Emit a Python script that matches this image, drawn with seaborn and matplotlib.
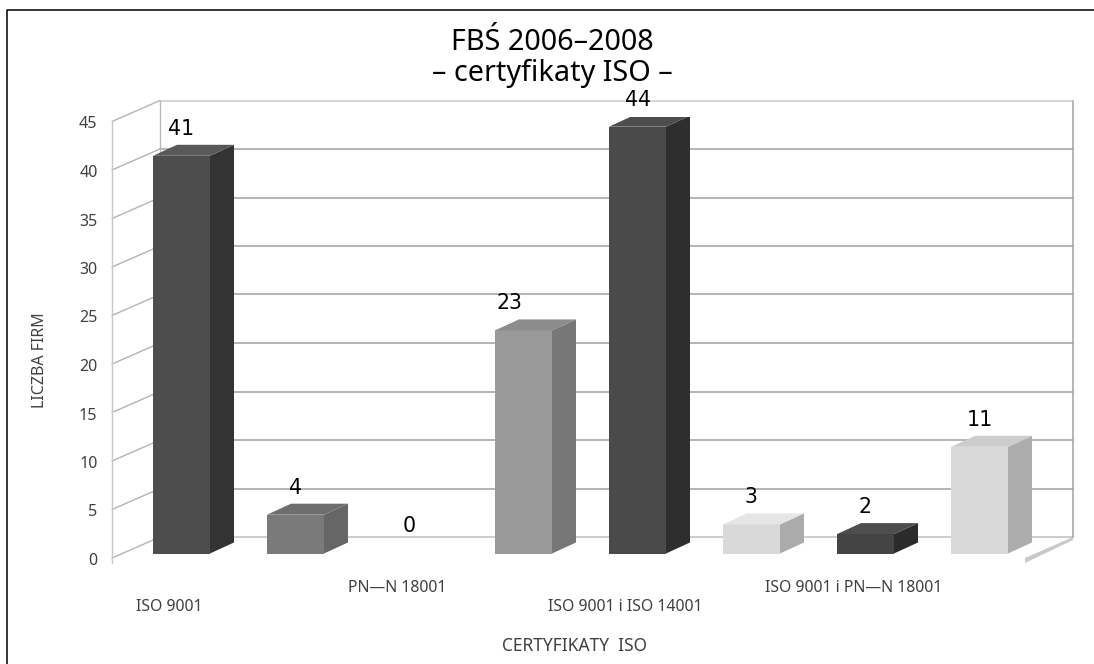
import seaborn as sns
import pandas as pd
import numpy as np
import matplotlib.pyplot as plt
from matplotlib.lines import Line2D
from matplotlib.transforms import ScaledTranslation

categories = ['ISO 9001', 'ISO 14001', 'PN-N 18001', 'ISO 9001 i PN-N 18001 a', 'ISO 9001 i ISO 14001',
              'ISO 14001 i PN-N 18001', 'ISO 9001 i PN-N 18001', 'ISO 9001, ISO 14001 i PN-N 18001']
firms = [41, 4, 0, 23, 44, 3, 2, 11]
front_colors = ['#4d4d4d', '#7a7a7a', '#888888', '#999999', '#4a4a4a', '#d9d9d9', '#444444', '#d9d9d9']
side_colors = ['#333333', '#666666', '#707070', '#777777', '#2e2e2e', '#ababab', '#2b2b2b', '#adadad']
top_colors = ['#595959', '#6e6e6e', '#808080', '#8c8c8c', '#4d4d4d', '#e6e6e6', '#4d4d4d', '#cccccc']
shown_ticks = [0, 2, 4, 6]
shown_labels = ['ISO 9001', 'PN\u2014N 18001', 'ISO 9001 i ISO 14001', 'ISO 9001 i PN\u2014N 18001']
y_ticks = list(range(0, 50, 5))

W, H = 1094, 664
sns.set_theme(style='white')
plt.rcParams['font.family'] = ['Noto Sans', 'DejaVu Sans']

df = pd.DataFrame({'cert': categories, 'firms': firms})
fig = plt.figure(figsize=(W / 100, H / 100), dpi=100)

# axes box in pixels: one category = 114 px, one firm = 9.7 px
left, right, bottom, top = 124.5, 1036.5, 553.5, 117
ax = fig.add_axes([left / W, 1 - bottom / H, (right - left) / W, (bottom - top) / H])
sns.barplot(data=df, x='cert', y='firms', hue='cert', palette=front_colors, legend=False,
            width=0.5, saturation=1, ax=ax, zorder=4, linewidth=0)
ax.set_xlim(-0.5, 7.5)
ax.set_ylim(0, 45)
for s in ax.spines.values():
    s.set_visible(False)

px = 1 / 114
py = 1 / 9.7

# fake 3d depth of the bars
bar_dx, bar_dy = 24 * px, 11 * py
for i, v in enumerate(firms):
    if v == 0:
        continue
    x1 = i + 0.25
    x0 = i - 0.25
    ax.fill([x1, x1 + bar_dx, x1 + bar_dx, x1], [0, bar_dy, v + bar_dy, v],
            color=side_colors[i], lw=0, zorder=5)
    ax.fill([x0, x0 + bar_dx, x1 + bar_dx, x1], [v, v + bar_dy, v + bar_dy, v],
            color=top_colors[i], lw=0, zorder=5)

# walls
wall_x0 = -0.5 - 12.5 * px
wall_dx, wall_dy = 48 * px, 21 * py
wall_x1 = wall_x0 + wall_dx
wall_x2 = wall_x1 + 913 * px
for t in y_ticks:
    yb = t + 16.5 * py
    yf = t - 4.5 * py
    c = '#d0d0d0' if t == 45 else ('#c4c4c4' if t == 0 else '#a8a8a8')
    ax.plot([wall_x1, wall_x2], [yb, yb], color=c, lw=1.2, zorder=1, clip_on=False)
    ax.plot([wall_x0, wall_x1], [yf, yb], color='#b4b4b4', lw=1, zorder=1, clip_on=False)
ax.plot([wall_x0, wall_x0], [-9.5 * py, 45 - 4.5 * py], color='#c8c8c8', lw=1, zorder=1, clip_on=False)
ax.plot([wall_x1, wall_x1], [16.5 * py, 45 + 16.5 * py], color='#b8b8b8', lw=1, zorder=1, clip_on=False)
ax.plot([wall_x2, wall_x2], [16.5 * py, 45 + 16.5 * py], color='#a0a0a0', lw=1.1, zorder=1, clip_on=False)
# floor edge bottom right
ax.fill([wall_x2 - wall_dx, wall_x2, wall_x2, wall_x2 - wall_dx],
        [-4.5 * py - 5 * py, 13.5 * py, 16.5 * py, -4.5 * py],
        color='#c9c9c9', lw=0, zorder=1, clip_on=False)

# value labels
for i, v in enumerate(firms):
    nudge = -14 * px if v == 23 else 0
    ax.text(i + nudge, v + 27 * py, str(v), ha='center', va='center', fontsize=14.8,
            family='DejaVu Sans', color='black', zorder=6, clip_on=False)

ax.set_yticks(y_ticks)
ax.set_yticklabels([str(t) for t in y_ticks])
ax.tick_params(axis='y', length=0, pad=27 * 0.72, labelsize=11.5, labelcolor='#404040')
shift = ScaledTranslation(0, -5.5 / 100, fig.dpi_scale_trans)
for lab in ax.get_yticklabels():
    lab.set_transform(lab.get_transform() + shift)

ax.set_xticks(np.array(shown_ticks) - 12 * px)
ax.set_xticklabels(shown_labels)
ax.tick_params(axis='x', length=0, labelsize=11.4, labelcolor='#404040')
pads = [(605 - 6 - bottom) * 0.72, (586 - 6 - bottom) * 0.72]
for k, tick in enumerate(ax.xaxis.get_major_ticks()):
    tick.set_pad(pads[k % 2])

ax.set_xlabel('CERTYFIKATY  ISO', fontsize=12.5, color='#404040')
ax.xaxis.set_label_coords(575 / W, 1 - 646 / H, transform=fig.transFigure)
ax.xaxis.label.set_va('center')
ax.set_ylabel('LICZBA FIRM', fontsize=11.5, color='#404040')
ax.yaxis.set_label_coords(40 / W, 1 - 360 / H, transform=fig.transFigure)
ax.yaxis.label.set_va('center')

fig.text(552 / W, 1 - 58 / H, 'FB\u015a 2006\u20132008\n\u2013 certyfikaty ISO \u2013', ha='center', va='center',
         fontsize=20.7, color='black', linespacing=1.12)

# outer frame, only top and left are visible
fig.add_artist(Line2D([6.5 / W, 6.5 / W, 1], [0, 1 - 9.5 / H, 1 - 9.5 / H], color='black', lw=1.1,
                      transform=fig.transFigure))

fig.savefig('out.png', dpi=100)
